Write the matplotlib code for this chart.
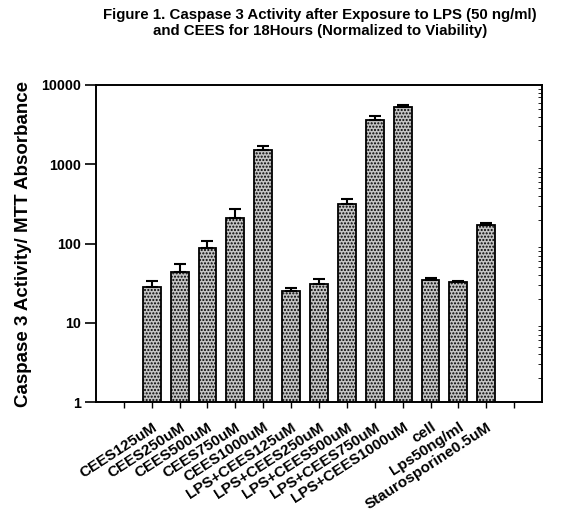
import numpy as np
import matplotlib
matplotlib.use('Agg')
import matplotlib.pyplot as plt
from matplotlib.ticker import LogLocator, NullFormatter, FixedLocator

plt.rcParams['font.family'] = ['Liberation Sans', 'DejaVu Sans']

# Data
labels = ['CEES125uM', 'CEES250uM', 'CEES500uM', 'CEES750uM', 'CEES1000uM',
          'LPS+CEES125uM', 'LPS+CEES250uM', 'LPS+CEES500uM', 'LPS+CEES750uM',
          'LPS+CEES1000uM', 'cell', 'Lps50ng/ml', 'Staurosporine0.5uM']
values = [28, 44, 88, 212, 1530, 25, 31, 315, 3650, 5200, 34.5, 32.5, 173]
errors = [6, 11, 18, 62, 160, 2.3, 4.4, 50, 450, 380, 2.5, 1, 7]

fig = plt.figure(figsize=(5.73, 5.16), dpi=100)
ax = fig.add_axes([0.1675, 0.2209, 0.7785, 0.6144])

x = np.arange(1, len(values) + 1)
ax.bar(x, values, width=0.64, color='#c4c4c4', edgecolor='black', linewidth=1.3,
       hatch='.....', zorder=2)
ax.errorbar(x, values, yerr=[np.zeros(len(errors)), errors], fmt='none',
            ecolor='black', elinewidth=1.5, capsize=4, capthick=1.5, zorder=3)

ax.set_yscale('log')
ax.set_ylim(1, 10000)
ax.set_xlim(-1, 15)
ax.set_yticks([1, 10, 100, 1000, 10000])
ax.set_yticklabels(['1', '10', '100', '1000', '10000'], fontweight='bold', fontsize=10.3)
ax.yaxis.set_minor_locator(LogLocator(base=10, subs=np.arange(2, 10)))
ax.yaxis.set_minor_formatter(NullFormatter())
ax.tick_params(axis='y', which='major', direction='out', length=8, width=1.2, pad=3)
ax.tick_params(axis='y', which='minor', left=False, right=True, direction='in', length=3)

ax.xaxis.set_major_locator(FixedLocator(np.arange(0, 15)))
ax.set_xticklabels([''] + labels + [''], rotation=33, ha='right',
                   rotation_mode='anchor', fontweight='bold', fontsize=11)
ax.tick_params(axis='x', direction='out', length=4, width=1.0, pad=9)

for s in ax.spines.values():
    s.set_linewidth(1.4)

ax.set_ylabel('Caspase 3 Activity/ MTT Absorbance', fontweight='bold', fontsize=13.5,
              labelpad=6)
fig.text(0.558, 0.985, 'Figure 1. Caspase 3 Activity after Exposure to LPS (50 ng/ml)\n'
         'and CEES for 18Hours (Normalized to Viability)', ha='center', va='top',
         fontweight='bold', fontsize=10.8, linespacing=1.25)

fig.savefig('out.png', dpi=100)
